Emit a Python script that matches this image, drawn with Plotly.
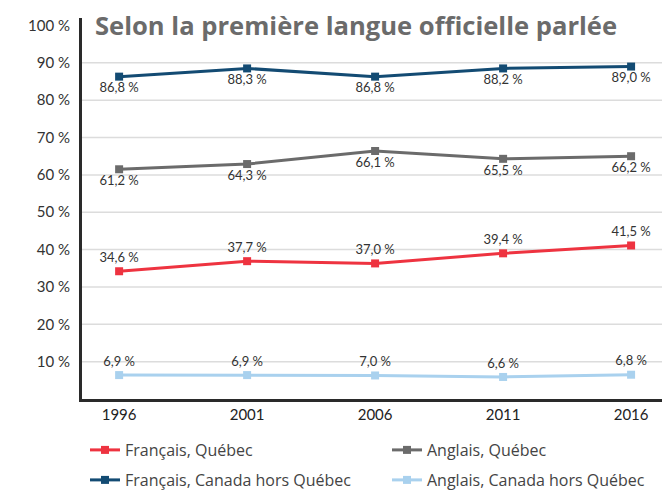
import plotly.graph_objects as go

# Données
annees = [1996, 2001, 2006, 2011, 2016]

series = [
    "Français, Québec",
    "Anglais, Québec",
    "Français, Canada hors Québec",
    "Anglais, Canada hors Québec",
]

# valeurs telles que tracées
fr_qc = [34.2, 36.9, 36.3, 39.0, 41.1]
an_qc = [61.5, 62.9, 66.4, 64.3, 65.0]
fr_hq = [86.3, 88.5, 86.3, 88.5, 89.0]
an_hq = [6.4, 6.4, 6.3, 5.9, 6.5]

# étiquettes affichées
lab_fr_qc = ["34,6 %", "37,7 %", "37,0 %", "39,4 %", "41,5 %"]
lab_an_qc = ["61,2 %", "64,3 %", "66,1 %", "65,5 %", "66,2 %"]
lab_fr_hq = ["86,8 %", "88,3 %", "86,8 %", "88,2 %", "89,0 %"]
lab_an_hq = ["6,9 %", "6,9 %", "7,0 %", "6,6 %", "6,8 %"]

yticks = [10, 20, 30, 40, 50, 60, 70, 80, 90, 100]
ytext = [f"{v} %" for v in yticks]

couleurs = ["#ee3340", "#6b6b6b", "#134b73", "#a9d1ee"]
valeurs = [fr_qc, an_qc, fr_hq, an_hq]
etiquettes = [lab_fr_qc, lab_an_qc, lab_fr_hq, lab_an_hq]
positions = ["top center", "bottom center", "bottom center", "top center"]
legendes = ["legend", "legend2", "legend3", "legend4"]

POLICE = "Lato"

fig = go.Figure()

for nom, y, txt, col, pos, leg in zip(series, valeurs, etiquettes, couleurs, positions, legendes):
    fig.add_trace(go.Scatter(
        x=annees, y=y, name=nom,
        mode="lines+markers+text",
        line=dict(color=col, width=3),
        marker=dict(symbol="square", size=8, color=col),
        text=txt, textposition=pos,
        textfont=dict(size=13, color="#333333", family=POLICE),
        legend=leg,
    ))

# lignes de grille (sans 100 %)
for v in yticks[:-1]:
    fig.add_shape(type="line", xref="paper", yref="y", x0=0, x1=1, y0=v, y1=v,
                  line=dict(color="#dcdcdc", width=1.5), layer="below")

# la page ajoute une marge de 8 px autour de la figure
leg_style = dict(
    orientation="h", xref="container", yref="container",
    xanchor="left", yanchor="middle",
    font=dict(size=16, color="#444444", family="Open Sans"),
)
col1, col2 = 77 / 670, 379 / 670
lig1, lig2 = 1 - 442 / 490, 1 - 472 / 490

fig.update_layout(
    width=670, height=490,
    margin=dict(l=74, r=8, t=10, b=99, autoexpand=False),
    paper_bgcolor="white", plot_bgcolor="white",
    showlegend=True,
    title=dict(
        text="<b>Selon la première langue officielle parlée</b>",
        x=87 / 670, xanchor="left", y=1 - 18 / 490, yanchor="middle",
        font=dict(size=25.6, color="#6b6b6b", family="Open Sans"),
    ),
    xaxis=dict(
        range=[1994.55, 2017.52], tickvals=annees, ticktext=[str(a) for a in annees],
        showgrid=False, zeroline=False,
        showline=True, linecolor="#2a2a2a", linewidth=3,
        tickfont=dict(size=15, color="#222222", family=POLICE),
        ticks="",
    ),
    yaxis=dict(
        range=[0, 102], tickvals=yticks, ticktext=ytext,
        showgrid=False, zeroline=False,
        showline=True, linecolor="#2a2a2a", linewidth=3,
        tickfont=dict(size=15, color="#333333", family=POLICE),
        ticks="", ticklabelstandoff=6,
    ),
    legend=dict(leg_style, x=col1, y=lig1),
    legend2=dict(leg_style, x=col2, y=lig1),
    legend3=dict(leg_style, x=col1, y=lig2),
    legend4=dict(leg_style, x=col2, y=lig2),
)

fig.write_html("out.html")
